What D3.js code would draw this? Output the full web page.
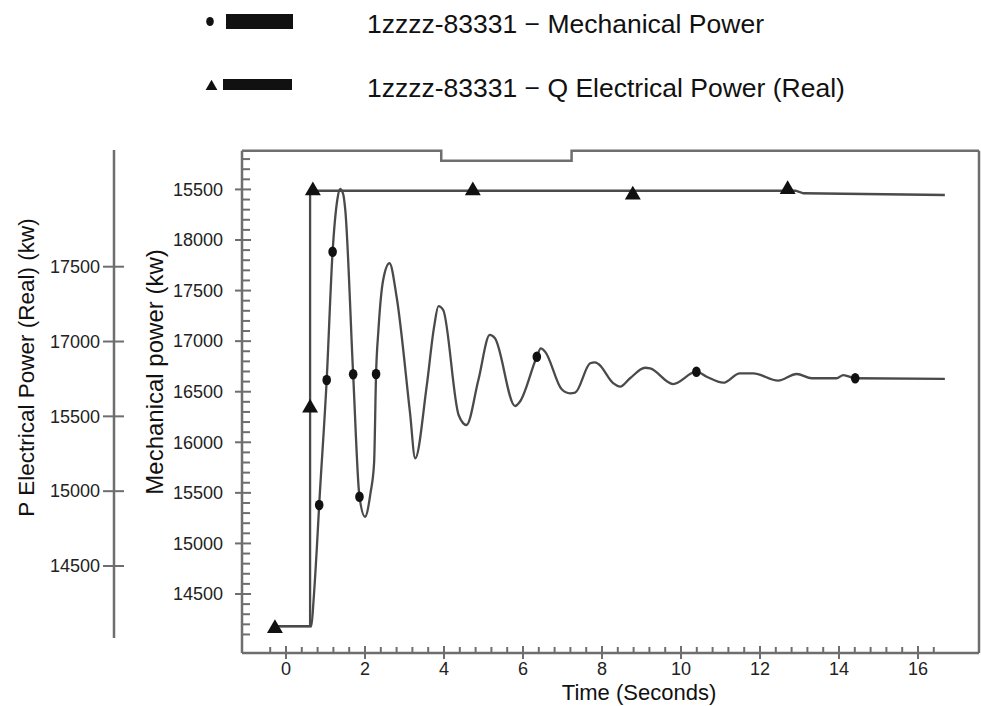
<!DOCTYPE html>
<html>
<head>
<meta charset="utf-8">
<script src="https://cdn.jsdelivr.net/npm/d3@7"></script>
<style>
  html, body { margin: 0; padding: 0; background: #fff; }
  svg { display: block; font-family: "Liberation Sans", Arial, sans-serif; }
</style>
</head>
<body>
<svg id="chart" width="981" height="706"></svg>
<script>
// ---------------- DATA ----------------
const seriesNames = ["1zzzz-83331 \u2212 Mechanical Power", "1zzzz-83331 \u2212 Q Electrical Power (Real)"];

// Mechanical power trace (time s, kW)
const mechT = [-0.30, 0.64, 0.70, 0.78, 0.84, 1.03, 1.18, 1.30, 1.37, 1.45, 1.50, 1.70, 1.86, 2.00, 2.14, 2.23, 2.28, 2.34, 2.46, 2.62, 2.80, 3.14, 3.27, 3.56, 3.75, 3.86, 3.98, 4.37, 4.57, 4.87, 5.16, 5.29, 5.80, 5.92, 6.35, 6.45, 6.56, 6.98, 7.19, 7.32, 7.70, 7.82, 7.91, 8.29, 8.46, 8.71, 9.09, 9.22, 9.80, 10.39, 10.65, 11.07, 11.49, 11.83, 12.46, 12.93, 13.31, 13.94, 14.11, 14.41, 16.68];
const mechV = [14180, 14180, 14450, 14950, 15380, 16616, 17884, 18400, 18504, 18450, 18300, 16672, 15462, 15264, 15500, 15795, 16675, 17110, 17605, 17770, 17439, 16290, 15842, 16550, 17143, 17347, 17308, 16270, 16171, 16616, 17061, 17028, 16359, 16401, 16846, 16929, 16896, 16524, 16484, 16490, 16781, 16791, 16774, 16583, 16550, 16633, 16737, 16730, 16576, 16698, 16648, 16589, 16682, 16682, 16609, 16675, 16633, 16633, 16665, 16633, 16626];
const mechMarkerT = [0.84, 1.03, 1.18, 1.70, 1.86, 2.28, 6.35, 10.39, 14.41];
const mechMarkerV = [15380, 16616, 17884, 16672, 15462, 16675, 16846, 16698, 16633];

// Q electrical power trace
const qT = [-0.28, 0.61, 0.61, 0.66, 12.90, 13.10, 16.68];
const qV = [14183, 14183, 18487, 18487, 18487, 18462, 18445];
const qMarkerT = [-0.28, 0.61, 0.68, 4.73, 8.78, 12.70];
const qMarkerV = [14160, 16339, 18487, 18487, 18445, 18500];

// status trace drawn along the top border (time of change, level)
const statusT = [3.93, 7.23];
const statusLevel = [0, 1];

// axis ticks
const timeTicks = [0, 2, 4, 6, 8, 10, 12, 14, 16];
const mechTickValues = [14500, 15000, 15500, 16000, 16500, 17000, 17500, 18000, 18500];
const mechTickLabels = ["14500", "15000", "15500", "16000", "16500", "17000", "17500", "18000", "15500"];
const pTickLabels = ["17500", "17000", "15500", "15000", "14500"];

// ---------------- LAYOUT ----------------
const svg = d3.select("#chart");
const frame = { left: 242, right: 979, top: 150.7, bottom: 653 };
const axisGrey = "#6e6e6e";
const lineGrey = "#4a4a4a";

const x = d3.scaleLinear().domain([0, 16]).range([286, 918]);
const y = d3.scaleLinear().domain([14500, 18000]).range([594, 240]);
const yP = d3.scalePoint().domain(pTickLabels).range([266.7, 566]);
const yStatus = d3.scaleLinear().domain([0, 1]).range([frame.top + 10, frame.top]);

// ---------------- LEGEND ----------------
const legend = svg.append("g");
legend.append("ellipse").attr("cx", 210).attr("cy", 21.5).attr("rx", 3.8).attr("ry", 4.5).attr("fill", "#111");
legend.append("rect").attr("x", 226).attr("y", 14).attr("width", 67).attr("height", 15).attr("fill", "#111");
legend.append("text").attr("x", 367).attr("y", 32.5).attr("font-size", 26.5).attr("fill", "#111").text(seriesNames[0]);
legend.append("path").attr("d", d3.symbol(d3.symbolTriangle, 60)()).attr("transform", "translate(211.5,86.5)").attr("fill", "#111");
legend.append("rect").attr("x", 223).attr("y", 79).attr("width", 69).attr("height", 11).attr("fill", "#111");
legend.append("text").attr("x", 367).attr("y", 96.5).attr("font-size", 26.5).attr("fill", "#111").text(seriesNames[1]);

// ---------------- OUTER LEFT AXIS (P electrical) ----------------
const gP = svg.append("g");
gP.append("line").attr("x1", 114).attr("x2", 114).attr("y1", 150).attr("y2", 638)
  .attr("stroke", axisGrey).attr("stroke-width", 2.5);
pTickLabels.forEach(l => {
  gP.append("line").attr("x1", 103).attr("x2", 124).attr("y1", yP(l)).attr("y2", yP(l))
    .attr("stroke", axisGrey).attr("stroke-width", 2);
  gP.append("text").attr("x", 100).attr("y", yP(l)).attr("dy", "0.35em").attr("text-anchor", "end")
    .attr("font-size", 18).attr("fill", "#222").text(l);
});
svg.append("text").attr("transform", `translate(33.5,${(220 + 515) / 2}) rotate(-90)`)
  .attr("text-anchor", "middle").attr("font-size", 22.5).attr("fill", "#111")
  .text("P Electrical Power (Real) (kw)");

// ---------------- INNER AXIS (mechanical) ----------------
const gM = svg.append("g");
const minorM = d3.range(13900, 18900, 100).filter(v => v % 500 !== 0 && y(v) > frame.top + 2 && y(v) < frame.bottom - 2);
minorM.forEach(v => {
  gM.append("line").attr("x1", frame.left).attr("x2", frame.left + 8).attr("y1", y(v)).attr("y2", y(v))
    .attr("stroke", axisGrey).attr("stroke-width", 2);
});
mechTickValues.forEach((v, i) => {
  gM.append("line").attr("x1", frame.left - 7).attr("x2", frame.left + 9).attr("y1", y(v)).attr("y2", y(v))
    .attr("stroke", axisGrey).attr("stroke-width", 2);
  gM.append("text").attr("x", 223).attr("y", y(v)).attr("dy", "0.35em").attr("text-anchor", "end")
    .attr("font-size", 18).attr("fill", "#222").text(mechTickLabels[i]);
});
svg.append("text").attr("transform", `translate(163,372) rotate(-90)`)
  .attr("text-anchor", "middle").attr("font-size", 24).attr("fill", "#111")
  .text("Mechanical power (kw)");

// ---------------- X AXIS ----------------
const gX = svg.append("g");
const minorX = d3.range(-0.4, 16.5, 0.4).filter(v => Math.abs(v / 2 - Math.round(v / 2)) > 1e-6);
minorX.forEach(v => {
  gX.append("line").attr("x1", x(v)).attr("x2", x(v)).attr("y1", frame.bottom - 6).attr("y2", frame.bottom)
    .attr("stroke", axisGrey).attr("stroke-width", 2);
});
timeTicks.forEach(v => {
  gX.append("line").attr("x1", x(v)).attr("x2", x(v)).attr("y1", frame.bottom - 7).attr("y2", frame.bottom + 6)
    .attr("stroke", axisGrey).attr("stroke-width", 2);
  gX.append("text").attr("x", x(v)).attr("y", 674.5).attr("text-anchor", "middle")
    .attr("font-size", 18).attr("fill", "#222").text(v);
});
svg.append("text").attr("x", 639).attr("y", 699.5).attr("text-anchor", "middle")
  .attr("font-size", 22).attr("fill", "#111").text("Time (Seconds)");

// ---------------- FRAME ----------------
const fr = svg.append("g").attr("fill", "none").attr("stroke", axisGrey).attr("stroke-width", 2.5);
fr.append("line").attr("x1", frame.left).attr("x2", frame.left).attr("y1", frame.top).attr("y2", frame.bottom);
fr.append("line").attr("x1", frame.left).attr("x2", frame.right).attr("y1", frame.bottom).attr("y2", frame.bottom);
fr.append("line").attr("x1", frame.right).attr("x2", frame.right).attr("y1", frame.top).attr("y2", frame.bottom);
const statusPts = [{ px: frame.left, lv: 1 }]
  .concat(statusT.map((t, i) => ({ px: x(t), lv: statusLevel[i] })))
  .concat([{ px: frame.right, lv: statusLevel[statusLevel.length - 1] }]);
fr.append("path").attr("d", d3.line().x(d => d.px).y(d => yStatus(d.lv)).curve(d3.curveStepAfter)(statusPts));

// ---------------- SERIES ----------------
const qLine = d3.line().x(d => x(d[0])).y(d => y(d[1]));
const mechLine = d3.line().x(d => x(d[0])).y(d => y(d[1])).curve(d3.curveMonotoneX);
const qData = qT.map((t, i) => [t, qV[i]]);
const mechData = mechT.map((t, i) => [t, mechV[i]]);

svg.append("path").attr("d", qLine(qData)).attr("fill", "none").attr("stroke", lineGrey).attr("stroke-width", 2.3);
svg.append("path").attr("d", mechLine(mechData)).attr("fill", "none").attr("stroke", lineGrey).attr("stroke-width", 2.3);

const tri = d3.symbol(d3.symbolTriangle, 110);
svg.append("g").selectAll("path").data(qMarkerT.map((t, i) => [t, qMarkerV[i]])).join("path")
  .attr("d", tri).attr("transform", d => `translate(${x(d[0])},${y(d[1])})`).attr("fill", "#111");

svg.append("g").selectAll("ellipse").data(mechMarkerT.map((t, i) => [t, mechMarkerV[i]])).join("ellipse")
  .attr("cx", d => x(d[0])).attr("cy", d => y(d[1])).attr("rx", 4.3).attr("ry", 5.3).attr("fill", "#111");
</script>
</body>
</html>
